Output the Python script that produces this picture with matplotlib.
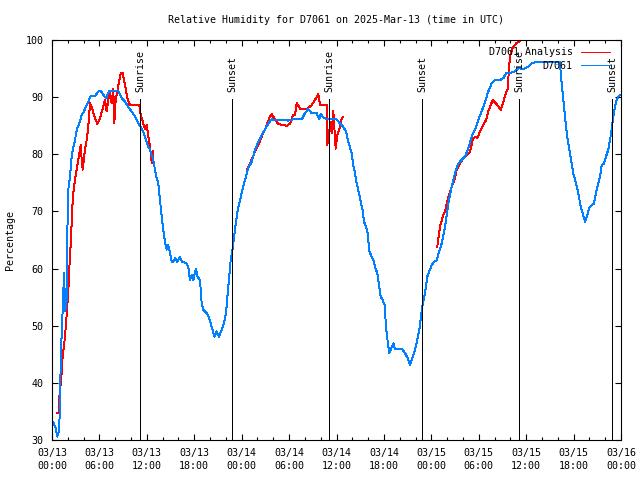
import pandas as pd
import matplotlib
matplotlib.use('Agg')
import matplotlib.pyplot as plt
import matplotlib.dates as mdates

plt.rcParams['font.family'] = ['DejaVu Sans Mono']
plt.rcParams['font.size'] = 7.2

start = pd.Timestamp('2025-03-13 00:00')

# observed humidity (hours since start, percent)
obs_hours = [0.16, 0.44, 0.67, 0.92, 1.14, 1.30, 1.52, 1.68, 1.86, 1.94, 2.06, 2.28, 2.49, 2.70,
             2.91, 3.13, 3.45, 3.76, 3.96, 4.30, 4.59, 4.90, 5.44, 5.86, 6.16, 6.49, 6.83, 7.25,
             7.76, 8.39, 8.82, 9.24, 9.65, 10.08, 10.50, 10.92, 11.35, 11.77, 12.19, 12.40, 12.82,
             13.03, 13.25, 13.45, 13.67, 13.88, 14.08, 14.30, 14.51, 14.72, 14.93, 15.15, 15.35,
             15.56, 15.85, 16.20, 16.49, 16.96, 17.25, 17.46, 17.68, 17.88, 18.22, 18.39, 18.73,
             18.94, 19.14, 19.57, 19.90, 20.21, 20.54, 20.84, 21.13, 21.47, 21.76, 22.02, 22.23,
             22.43, 22.61, 22.87, 23.16, 23.51, 24.00, 24.42, 24.84, 25.27, 25.69, 26.10, 26.53,
             26.95, 27.37, 27.80, 28.43, 29.27, 29.90, 30.53, 31.17, 31.60, 32.01, 32.43, 32.86,
             33.49, 33.82, 34.00, 34.33, 34.76, 35.18, 36.02, 36.44, 36.86, 37.20, 37.49, 37.92,
             38.12, 38.34, 38.55, 38.85, 39.06, 39.31, 39.48, 39.73, 39.95, 40.15, 40.45, 40.66,
             40.87, 41.16, 41.42, 41.59, 41.84, 42.10, 42.26, 42.48, 42.68, 42.86, 43.19, 43.40,
             44.25, 44.67, 45.01, 45.30, 45.64, 45.93, 46.22, 46.48, 46.69, 46.91, 47.11, 47.32,
             47.49, 47.74, 48.04, 48.34, 48.68, 48.88, 49.31, 49.73, 50.15, 50.58, 50.99, 51.41,
             51.84, 52.26, 52.68, 53.11, 53.52, 53.94, 54.37, 54.79, 55.21, 55.64, 56.06, 56.69,
             57.11, 57.45, 57.95, 58.59, 59.01, 59.64, 60.27, 60.70, 61.12, 64.28, 64.37, 64.62,
             64.79, 65.00, 65.20, 65.46, 65.76, 65.96, 66.30, 66.60, 66.90, 67.15, 67.44, 67.73,
             67.99, 68.29, 68.58, 68.83, 69.13, 69.43, 69.56, 69.85, 70.10, 70.39, 70.61, 70.82,
             71.02, 71.24, 71.45, 71.66, 71.87]
obs_rh = [33.1, 32.2, 30.6, 31.8, 45.7, 51.0, 59.2, 52.5, 54.5, 66.2, 73.8, 76.1, 79.6, 81.3,
          82.5, 84.3, 85.4, 86.9, 87.3, 88.3, 89.2, 90.2, 90.2, 91.0, 91.1, 90.4, 89.8, 91.1,
          91.0, 91.1, 89.8, 89.2, 88.3, 87.5, 86.6, 85.4, 84.5, 83.1, 81.3, 80.8, 79.0,
          77.3, 75.8, 74.9, 72.0, 69.1, 66.8, 64.7, 63.3, 64.1, 62.7, 61.2, 61.2,
          61.8, 61.2, 62.0, 61.2, 61.0, 60.3, 58.0, 58.9, 58.0, 60.0, 58.6, 58.0,
          53.9, 52.8, 52.2, 51.3, 49.8, 48.1, 49.0, 48.1, 49.3, 50.4, 52.2, 55.7,
          58.6, 61.5, 63.5, 67.0, 70.3, 73.2, 75.5, 77.6, 78.7, 80.8, 82.2, 83.4,
          84.3, 85.4, 86.1, 86.0, 86.0, 85.9, 86.1, 86.1, 86.1, 87.2, 87.9, 87.2,
          87.2, 86.1, 87.0, 86.5, 86.1, 86.1, 86.1, 85.4, 84.8, 84.0, 82.2, 80.2,
          78.1, 76.7, 74.9, 73.2, 71.7, 70.3, 68.2, 67.3, 66.2, 63.0, 62.1, 61.5,
          60.3, 59.2, 56.8, 55.1, 54.5, 53.6, 49.8, 47.2, 45.2, 45.8, 46.9, 46.0,
          46.0, 45.2, 44.3, 43.1, 44.6, 45.8, 47.5, 49.3, 51.6, 53.9, 55.1, 56.8,
          58.6, 59.5, 60.6, 61.2, 61.4, 62.5, 64.4, 67.3, 71.4, 74.3, 76.7, 78.4,
          79.0, 79.6, 81.0, 83.1, 84.3, 86.0, 87.5, 89.2, 91.0, 92.4, 93.0, 93.0,
          93.3, 94.2, 94.2, 94.5, 95.1, 94.9, 95.3, 95.9, 96.1, 96.1, 94.2, 90.7,
          88.3, 85.4, 83.1, 80.8, 78.4, 76.7, 74.9, 73.2, 70.8, 69.7, 68.2, 69.4,
          70.6, 71.1, 71.4, 73.2, 74.9, 76.7, 78.1, 78.4, 79.6, 80.8, 82.5, 84.3,
          86.6, 88.3, 89.5, 90.1, 90.4]

# analysis, three separate runs
ana1_hours = [0.67, 0.90, 0.95, 1.14, 1.35, 1.64, 1.86, 2.06, 2.19, 2.37, 2.62, 2.78, 3.04, 3.33,
              3.63, 3.76, 3.88, 4.18, 4.39, 4.59, 4.81, 5.02, 5.31, 5.73, 6.07, 6.42, 6.71, 6.92,
              7.12, 7.34, 7.55, 7.76, 7.88, 8.06, 8.26, 8.52, 8.73, 8.95, 9.24, 9.58, 9.87, 11.05,
              11.22, 11.55, 11.77, 11.98, 12.19, 12.40, 12.62, 12.82, 12.84]
ana1_rh = [34.8, 34.8, 38.0, 40.2, 44.6, 48.0, 52.0, 56.0, 60.0, 64.4, 72.0, 74.3, 76.7, 79.0,
           81.6, 79.0, 77.3, 81.0, 82.5, 84.8, 88.9, 88.3, 86.9, 85.3, 86.3, 88.0, 89.5, 87.5,
           89.5, 91.0, 88.9, 91.4, 85.4, 89.5, 91.0, 93.0, 94.3, 94.2, 92.1, 89.5, 88.6, 88.6,
           86.9, 85.4, 84.5, 85.1, 83.1, 81.3, 78.5, 80.6, 78.4]
ana2_hours = [24.71, 25.05, 25.40, 25.69, 26.10, 26.53, 26.95, 27.24, 27.58, 27.80, 28.13, 28.63,
              29.27, 29.77, 30.12, 30.53, 30.75, 30.96, 31.38, 31.80, 32.30, 32.86, 33.28, 33.70,
              33.91, 34.76, 34.83, 35.05, 35.18, 35.39, 35.59, 35.72, 35.90, 36.10, 36.44, 36.66,
              36.86]
ana2_rh = [77.4, 78.4, 79.5, 80.5, 81.6, 83.1, 84.3, 85.4, 86.6, 87.0, 86.3, 85.3,
           85.1, 85.0, 85.4, 86.9, 86.9, 89.0, 88.0, 87.9, 88.0, 88.6, 89.5, 90.6,
           88.6, 88.6, 81.6, 83.1, 85.7, 83.7, 87.6, 84.8, 81.0, 83.4, 84.8, 86.3,
           86.5]
ana3_hours = [48.75, 49.09, 49.44, 49.73, 50.15, 50.58, 50.99, 51.21, 51.63, 52.04, 52.47, 52.80,
              52.98, 53.23, 53.52, 53.81, 54.15, 54.57, 54.92, 55.21, 55.51, 55.76, 56.18, 56.78,
              57.11, 57.45, 57.66, 57.87, 58.04, 58.37, 58.79, 59.43, 60.10]
ana3_rh = [63.8, 67.3, 69.1, 70.0, 72.6, 74.3, 75.8, 77.3, 78.4, 79.3, 79.9, 80.2,
           81.0, 82.5, 83.1, 82.8, 84.0, 85.1, 86.0, 87.5, 88.6, 89.5, 88.9, 87.8,
           89.2, 90.7, 91.5, 95.9, 97.7, 98.8, 99.5, 100.0, 100.8]

event_hours = [11.17, 22.81, 35.05, 46.86, 59.09, 70.90]
event_names = ['Sunrise', 'Sunset', 'Sunrise', 'Sunset', 'Sunrise', 'Sunset']


def to_time(hours):
    return start + pd.to_timedelta(hours, unit='h')


fig = plt.figure(figsize=(6.4, 4.8), dpi=100)
ax = fig.add_axes([52 / 640, 40 / 480, 569 / 640, 400 / 480])

red = '#ff0000'
blue = '#0080ff'
lw = 0.7
ax.plot(to_time(ana1_hours), ana1_rh, color=red, lw=lw, label='D7061 Analysis', antialiased=False)
ax.plot(to_time(ana2_hours), ana2_rh, color=red, lw=lw, antialiased=False)
ax.plot(to_time(ana3_hours), ana3_rh, color=red, lw=lw, antialiased=False)
ax.plot(to_time(obs_hours), obs_rh, color=blue, lw=lw, label='D7061', antialiased=False)

ev_times = to_time(event_hours)
ax.vlines(ev_times, 30, 89.7, color='black', lw=0.7, zorder=3, antialiased=False)
for t, name in zip(ev_times, event_names):
    ax.text(t, 90.9, name, rotation=90, ha='center', va='bottom', fontsize=7.2)

ax.set_xlim(start, start + pd.Timedelta(hours=72))
ax.set_ylim(30, 100)
ax.set_yticks(range(30, 101, 10))
ax.xaxis.set_major_locator(mdates.HourLocator(byhour=range(0, 24, 6)))
ax.xaxis.set_minor_locator(mdates.HourLocator(byhour=range(0, 24, 2)))
ax.xaxis.set_major_formatter(mdates.DateFormatter('%m/%d\n%H:%M'))
ax.tick_params(which='both', direction='in', top=True, right=True, width=0.8, labelsize=7.2)
ax.tick_params(which='major', length=4.5, pad=6)
ax.tick_params(which='minor', length=2.5)
for lab in ax.get_xticklabels():
    lab.set_linespacing(1.3)
for sp in ax.spines.values():
    sp.set_linewidth(0.8)

ax.set_title('Relative Humidity for D7061 on 2025-Mar-13 (time in UTC)', fontsize=7.2, pad=12)
ax.set_ylabel('Percentage', fontsize=7.2, labelpad=8)

ax.legend(loc='upper right', bbox_to_anchor=(0.993, 1.0), frameon=False, markerfirst=False,
          handlelength=2.9, handletextpad=0.8, labelspacing=0.35, borderpad=0.25, fontsize=7.2)

fig.savefig('out.png', dpi=100)
